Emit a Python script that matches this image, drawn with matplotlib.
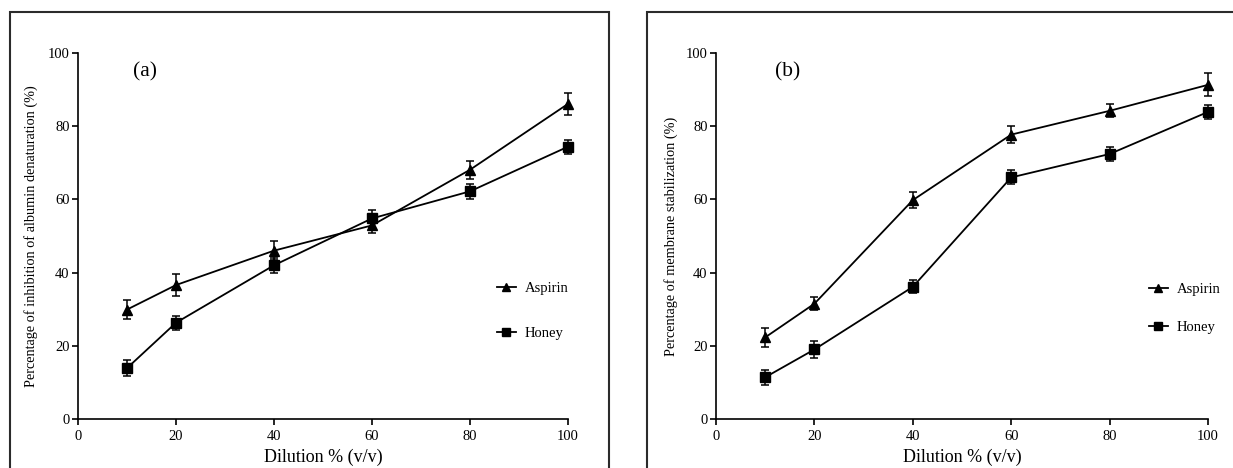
import matplotlib
matplotlib.use("Agg")
import matplotlib.pyplot as plt
from matplotlib.patches import Rectangle
from matplotlib.lines import Line2D

plt.rcParams["font.family"] = ["Liberation Serif", "DejaVu Serif"]

# Dilution levels (% v/v)
dilution = [10, 20, 40, 60, 80, 100]

# (a) inhibition of albumin denaturation
aspirin_a = [29.9, 36.6, 46.0, 52.9, 68.1, 86.1]
aspirin_a_err = [2.5, 2.9, 2.5, 2.2, 2.5, 3.0]
honey_a = [13.9, 26.3, 42.0, 54.8, 62.2, 74.4]
honey_a_err = [2.2, 1.9, 2.1, 2.4, 2.0, 1.9]

# (b) membrane stabilization
aspirin_b = [22.3, 31.5, 59.8, 77.7, 84.2, 91.3]
aspirin_b_err = [2.6, 1.8, 2.1, 2.4, 1.8, 3.1]
honey_b = [11.4, 19.0, 36.1, 66.0, 72.4, 83.9]
honey_b_err = [2.1, 2.4, 1.8, 1.9, 1.8, 1.9]

panels = [
    ("(a)", "Percentage of inhibition of albumin denaturation (%)",
     aspirin_a, aspirin_a_err, honey_a, honey_a_err),
    ("(b)", "Percentage of membrane stabilization (%)",
     aspirin_b, aspirin_b_err, honey_b, honey_b_err),
]

W, H = 1233, 468
fig = plt.figure(figsize=(W / 100, H / 100), dpi=100)

# outer frames around each panel (cut off at the bottom / right)
fig.add_artist(Rectangle((10 / W, -0.1), 599 / W, 1.1 - 12 / H,
                         transform=fig.transFigure, fill=False,
                         edgecolor="#2b2b2b", lw=1.5))
fig.add_artist(Rectangle((647 / W, -0.1), 0.6, 1.1 - 12 / H,
                         transform=fig.transFigure, fill=False,
                         edgecolor="#2b2b2b", lw=1.5))

axes_px = [(78, 490), (716, 492)]
legend_pos = [(0.855, 0.295, 2.2), (0.880, 0.303, 1.7)]
ylabel_x = [38, 678]
tag_x = [0.137, 0.146]

for i, (tag, ylab, asp, asp_e, hon, hon_e) in enumerate(panels):
    left, width = axes_px[i]
    ax = fig.add_axes([left / W, (H - 419) / H, width / W, 366 / H])

    kw = dict(color="black", ms=6.5, lw=1.3, capsize=2.8, elinewidth=1.1,
              capthick=1.1, clip_on=False)
    ax.errorbar(dilution, asp, yerr=asp_e, marker="^", **kw)
    ax.errorbar(dilution, hon, yerr=hon_e, marker="s", **kw)

    ax.set_xlim(0, 100)
    ax.set_ylim(0, 100)
    ax.set_xticks([0, 20, 40, 60, 80, 100])
    ax.set_yticks([0, 20, 40, 60, 80, 100])
    ax.spines["top"].set_visible(False)
    ax.spines["right"].set_visible(False)
    for s in ("left", "bottom"):
        ax.spines[s].set_linewidth(1.2)
    ax.tick_params(direction="out", length=4, width=1.2, labelsize=10.5)
    ax.tick_params(axis="x", pad=4)
    ax.tick_params(axis="y", pad=2)

    ax.set_xlabel("Dilution % (v/v)", fontsize=13, labelpad=4)
    ax.set_ylabel(ylab, fontsize=10.3)
    ax.yaxis.set_label_coords((ylabel_x[i] - left) / width, 0.5)

    ax.text(tag_x[i], 0.948, tag, transform=ax.transAxes,
            fontsize=15.5, ha="center", va="center")

    handles = [
        Line2D([], [], color="black", marker="^", ms=6, lw=1.3),
        Line2D([], [], color="black", marker="s", ms=6, lw=1.3),
    ]
    lx, ly, lsp = legend_pos[i]
    ax.legend(handles, ["Aspirin", "Honey"], loc="center left",
              bbox_to_anchor=(lx, ly), frameon=False, fontsize=10.5,
              handlelength=1.3, handletextpad=0.6, labelspacing=lsp,
              borderpad=0, borderaxespad=0)

fig.savefig("out.png", dpi=100)
